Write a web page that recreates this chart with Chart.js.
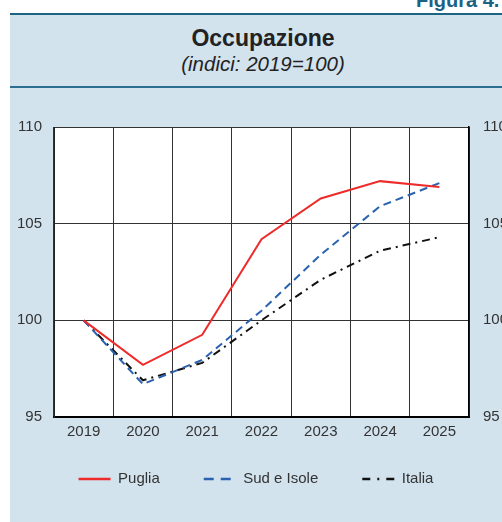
<!DOCTYPE html>
<html>
<head>
<meta charset="utf-8">
<script src="https://cdn.jsdelivr.net/npm/chart.js@4.4.1/dist/chart.umd.min.js"></script>
<style>
  body { margin: 0; width: 502px; height: 522px; overflow: hidden; background: #fff; position: relative;
         font-family: "Liberation Sans", Arial, sans-serif; }
  #fig { position: absolute; left: 416px; top: -11px; font-size: 20px; font-weight: bold; color: #1b6284; white-space: nowrap; }
  #panel { position: absolute; left: 10px; top: 13px; width: 600px; height: 520px; background: #d2e3ee; border-top: 2px solid #1d6384; }
  #sep { position: absolute; left: 10px; top: 86px; width: 600px; height: 2px; background: #2b6f90; }
  .title { position: absolute; left: 163px; width: 200px; text-align: center; color: #222; white-space: nowrap; }
  #t1 { top: 25px; font-size: 23px; font-weight: bold; }
  #t2 { top: 52px; font-size: 20.5px; font-style: italic; }
  #box { position: absolute; left: 0; top: 100px; }
</style>
</head>
<body>
<div id="panel"></div>
<div id="fig">Figura 4.</div>
<div id="sep"></div>
<div class="title" id="t1">Occupazione</div>
<div class="title" id="t2">(indici: 2019=100)</div>
<div id="box"><canvas id="chart" width="560" height="422"></canvas></div>
<script>
const years = ['2019', '2020', '2021', '2022', '2023', '2024', '2025'];
const puglia = [100, 97.7, 99.25, 104.2, 106.3, 107.2, 106.9];
const sudIsole = [100, 96.7, 97.95, 100.5, 103.4, 105.9, 107.1];
const italia = [100, 96.9, 97.8, 100.0, 102.1, 103.6, 104.3];
const yMin = 95, yMax = 110, yStep = 5;

Chart.defaults.font.family = '"Liberation Sans", Arial, sans-serif';
Chart.defaults.font.size = 15;
Chart.defaults.color = '#333';

const ctx = document.getElementById('chart');

new Chart(ctx, {
  type: 'line',
  data: {
    labels: years,
    datasets: [
      { label: 'Puglia', data: puglia, borderColor: '#ee2b2b', borderWidth: 2, pointRadius: 0, tension: 0,
        legendDash: [] },
      { label: 'Sud e Isole', data: sudIsole, borderColor: '#2a62b0', borderWidth: 2, borderDash: [8, 5], pointRadius: 0, tension: 0,
        legendDash: [10, 7] },
      { label: 'Italia', data: italia, borderColor: '#111', borderWidth: 2, borderDash: [8, 5, 2, 5], pointRadius: 0, tension: 0,
        legendDash: [8, 7, 2, 7] }
    ]
  },
  options: {
    responsive: false,
    animation: false,
    layout: { padding: { left: 0, right: 48, top: 27, bottom: 8 } },
    plugins: {
      legend: {
        position: 'bottom',
        labels: {
          usePointStyle: true, pointStyle: 'line', pointStyleWidth: 32, padding: 44, color: '#333', font: { size: 15 },
          generateLabels(chart) {
            const items = Chart.defaults.plugins.legend.labels.generateLabels(chart);
            items.forEach(it => {
              const ds = chart.data.datasets[it.datasetIndex];
              it.lineDash = ds.legendDash;
              it.lineWidth = 2.5;
              it.strokeStyle = ds.borderColor;
            });
            return items;
          }
        }
      },
      tooltip: { enabled: false }
    },
    scales: {
      x: {
        offset: true,
        grid: { offset: true, color: '#333', lineWidth: 1, drawTicks: false },
        border: { color: '#000', width: 2 },
        ticks: { padding: 6, color: '#333' },
        afterFit: s => { s.height = 28; }
      },
      y: {
        min: yMin, max: yMax,
        ticks: { stepSize: yStep, padding: 12, color: '#333' },
        grid: { color: '#333', lineWidth: 1, drawTicks: false },
        border: { color: '#222', width: 1 },
        afterFit: s => { s.width = 54; }
      },
      y2: {
        position: 'right',
        min: yMin, max: yMax,
        ticks: { stepSize: yStep, padding: 14, color: '#333' },
        grid: { display: false, drawTicks: false },
        border: { color: '#000', width: 1.5 },
        afterFit: s => { s.width = 43; }
      }
    }
  },
  plugins: [{
    id: 'plotBg',
    beforeDraw(chart) {
      const a = chart.chartArea;
      chart.ctx.save();
      chart.ctx.fillStyle = '#fff';
      chart.ctx.fillRect(a.left, a.top, a.right - a.left, a.bottom - a.top);
      chart.ctx.restore();
    }
  }, {
    // legend padding is wide for item spacing, pull it back up
    id: 'legendShift',
    afterLayout(chart) {
      const lg = chart.legend;
      const shift = lg.top + 44 + 7.5 - 379;
      lg.top -= shift;
      lg.bottom -= shift;
    }
  }]
});
</script>
</body>
</html>
